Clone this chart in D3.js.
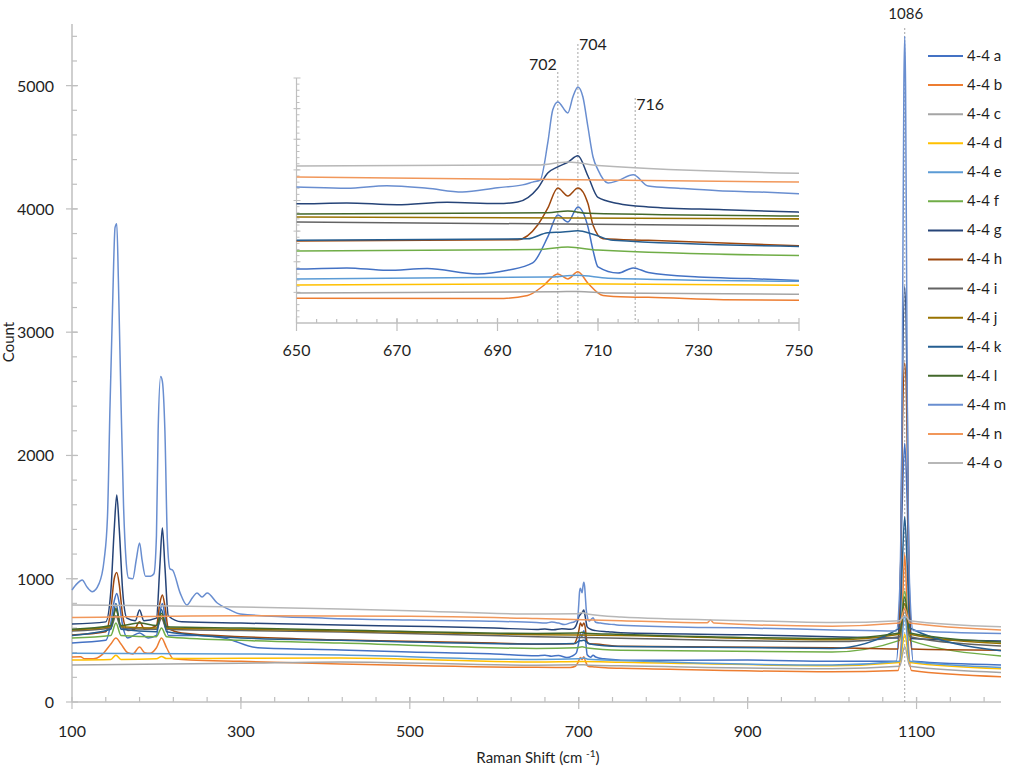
<!DOCTYPE html>
<html>
<head>
<meta charset="utf-8">
<script src="https://cdn.jsdelivr.net/npm/d3@7"></script>
<style>
  body { margin: 0; background: #fff; }
  text { font-family: Lato, "Open Sans", sans-serif; fill: #1f1f1f; }
</style>
</head>
<body>
<svg width="1024" height="778"></svg>
<script>
// ---- data (Raman shift cm-1, count) ----
const seriesNames = ["4-4 a", "4-4 b", "4-4 c", "4-4 d", "4-4 e", "4-4 f", "4-4 g", "4-4 h",
                     "4-4 i", "4-4 j", "4-4 k", "4-4 l", "4-4 m", "4-4 n", "4-4 o"];

const spec_a = [[100,479],[140,500],[146,640],[150,820],[153,880],[156,800],[160,620],[166,520],[180,560],[190,520],[200,540],[204,720],[207,800],[210,700],[214,540],[250,540],[280,520],[320,440],[418,422],[500,405],[600,390],[650,376],[660,380],[668,372],[676,378],[686,360],[692,372],[697,396],[700,481],[702,553],[704,530],[706,579],[708,514],[709,438],[710,383],[714,363],[717,380],[720,365],[730,350],[740,345],[750,339],[900,340],[1000,330],[1076,330],[1080,800],[1083,1600],[1086,2100],[1089,1600],[1092,800],[1096,330],[1200,300]];
const spec_b = [[100,365],[110,368],[115,350],[125,350],[135,380],[146,470],[152,519],[158,470],[166,400],[172,390],[180,446],[186,400],[192,395],[200,440],[206,519],[212,440],[220,350],[240,341],[300,330],[418,308],[650,281],[690,280],[696,290],[699,320],[702,360],[704,344],[706,367],[708,330],[711,290],[716,285],[720,284],[735,276],[750,274],[1000,245],[1078,255],[1082,500],[1086,1200],[1090,500],[1094,255],[1200,205]];
const spec_c = [[100,300],[300,315],[418,325],[650,298],[702,302],[706,303],[712,298],[750,294],[1000,270],[1080,290],[1086,450],[1092,290],[1200,240]];
const spec_d = [[100,341],[146,345],[152,380],[158,345],[200,350],[206,370],[212,352],[300,355],[418,357],[650,324],[704,328],[750,323],[1000,295],[1080,320],[1086,550],[1092,320],[1200,270]];
const spec_e = [[100,395],[300,390],[418,381],[650,344],[700,350],[706,356],[712,346],[750,336],[1000,300],[1080,330],[1086,700],[1092,330],[1200,280]];
const spec_f = [[100,519],[146,540],[152,640],[158,540],[200,530],[206,600],[212,530],[300,500],[418,479],[650,435],[698,440],[704,448],[710,438],[750,420],[1000,405],[1080,500],[1086,900],[1092,500],[1200,373]];
const spec_g = [[100,633],[140,650],[146,900],[150,1400],[153,1680],[156,1400],[160,900],[165,680],[175,660],[180,747],[185,660],[200,680],[204,1100],[207,1412],[210,1100],[214,700],[230,650],[300,640],[418,625],[500,615],[600,600],[650,589],[660,592],[670,586],[680,594],[690,590],[694,595],[698,640],[700,690],[702,710],[704,725],[706,746],[708,680],[710,610],[714,590],[720,579],[735,570],[750,562],[900,545],[1000,530],[1078,520],[1081,900],[1083,2400],[1086,3370],[1089,2400],[1091,900],[1094,515],[1200,495]];
const spec_h = [[100,544],[140,570],[146,750],[150,1000],[153,1050],[156,950],[160,700],[166,580],[174,590],[180,650],[186,590],[200,620],[204,800],[207,868],[210,780],[214,600],[230,560],[300,530],[418,503],[600,478],[650,468],[694,472],[698,520],[700,575],[702,641],[704,615],[706,641],[708,590],[709,520],[711,475],[720,470],[750,452],[1000,440],[1078,430],[1081,1000],[1083,2100],[1086,2750],[1089,2100],[1091,1000],[1094,430],[1200,420]];
const spec_i = [[100,575],[146,600],[152,700],[158,600],[200,590],[206,680],[212,590],[300,580],[418,568],[650,530],[750,517],[1000,490],[1080,530],[1086,760],[1092,530],[1200,455]];
const spec_j = [[100,584],[146,610],[152,760],[158,610],[200,600],[206,700],[212,600],[300,590],[418,575],[650,546],[750,540],[1000,505],[1080,550],[1086,800],[1092,550],[1200,475]];
const spec_k = [[100,540],[146,590],[152,800],[158,590],[200,570],[206,750],[212,570],[300,520],[418,500],[650,470],[696,475],[700,495],[703,497],[706,501],[709,490],[713,470],[750,450],[1000,435],[1080,600],[1083,1100],[1086,1500],[1089,1100],[1092,600],[1200,415]];
const spec_l = [[100,590],[146,620],[152,750],[158,620],[180,640],[200,620],[206,720],[212,610],[300,600],[418,584],[650,556],[700,560],[704,566],[708,558],[750,549],[1000,515],[1080,560],[1086,850],[1092,560],[1200,487]];
const spec_m = [[100,909],[106,960],[112,990],[118,930],[124,895],[132,960],[138,1150],[142,1500],[145,2400],[148,3200],[151,3850],[153,3880],[155,3400],[158,2450],[161,1600],[164,1150],[167,1006],[172,1000],[176,1150],[180,1290],[183,1150],[187,1020],[193,1020],[197,1040],[200,1350],[202,2200],[205,2640],[207,2600],[210,2200],[213,1300],[216,1080],[219,1071],[228,885],[236,787],[243,850],[248,885],[254,852],[260,885],[272,803],[287,747],[299,714],[400,680],[500,665],[600,655],[650,644],[660,640],[668,648],[676,640],[683,628],[690,642],[695,651],[697,660],[698.5,667],[700,788],[701,896],[702,922],[704,886],[705,938],[706,971],[707,938],[708,840],[709,743],[710,700],[712,657],[714,665],[717,684],[720,647],[726,640],[734,632],[742,628],[750,622],[850,605],[900,600],[1000,585],[1076,575],[1080,900],[1083,2500],[1085,5000],[1086,5400],[1087,5000],[1089,2500],[1092,900],[1096,580],[1200,555]];
const spec_n = [[100,685],[300,700],[500,695],[650,677],[750,660],[852,642],[856,665],[860,640],[1000,615],[1080,640],[1086,760],[1092,640],[1200,585]];
const spec_o = [[100,787],[200,780],[300,771],[418,755],[500,740],[650,713],[698,716],[704,726],[710,714],[750,689],[900,660],[1000,645],[1080,660],[1086,700],[1092,660],[1200,610]];

const seriesData = [spec_a, spec_b, spec_c, spec_d, spec_e, spec_f, spec_g, spec_h,
                    spec_i, spec_j, spec_k, spec_l, spec_m, spec_n, spec_o];
const seriesColors = ["#4472C4", "#ED7D31", "#A5A5A5", "#FFC000", "#5B9BD5", "#70AD47", "#264478", "#9E480E",
                      "#636363", "#997300", "#255E91", "#43682B", "#698ED0", "#F1975A", "#B7B7B7"];

const mainXTicks = [100, 300, 500, 700, 900, 1100];
const mainYTicks = [0, 1000, 2000, 3000, 4000, 5000];
const insetXTicks = [650, 670, 690, 710, 730, 750];
const insetPeakPos = [702, 706, 717.4];
const insetPeakText = ["702", "704", "716"];
const mainPeakPos = 1086;
const mainPeakText = "1086";

const svg = d3.select("svg");
svg.append("rect").attr("width", 1024).attr("height", 778).attr("fill", "#fff");

const axisColor = "#BFBFBF";

// ---- main chart ----
const x = d3.scaleLinear().domain([100, 1200]).range([72, 1001]);
const y = d3.scaleLinear().domain([0, 5500]).range([702, 24]);

// y axis
svg.append("line")
   .attr("x1", 72).attr("x2", 72).attr("y1", y(5500)).attr("y2", y(0))
   .attr("stroke", axisColor).attr("stroke-width", 1.5);
svg.selectAll(".yminor").data(d3.range(200, 5500, 200)).enter().append("line")
   .attr("x1", 72).attr("x2", 77)
   .attr("y1", d => y(d)).attr("y2", d => y(d))
   .attr("stroke", axisColor).attr("stroke-width", 1.2);
svg.selectAll(".ymajor").data(mainYTicks).enter().append("line")
   .attr("x1", 66).attr("x2", 78)
   .attr("y1", d => y(d)).attr("y2", d => y(d))
   .attr("stroke", axisColor).attr("stroke-width", 1.2);
svg.selectAll(".ylab").data(mainYTicks).enter().append("text")
   .attr("x", 54).attr("y", d => y(d) + 6)
   .attr("text-anchor", "end").attr("font-size", "16px")
   .text(d => d);

// x axis
svg.append("line")
   .attr("x1", x(100)).attr("x2", x(1200)).attr("y1", y(0)).attr("y2", y(0))
   .attr("stroke", axisColor).attr("stroke-width", 1.5);
svg.selectAll(".xminor").data(d3.range(140, 1200, 40)).enter().append("line")
   .attr("x1", d => x(d)).attr("x2", d => x(d)).attr("y1", y(0) - 5).attr("y2", y(0))
   .attr("stroke", axisColor).attr("stroke-width", 1.2);
svg.selectAll(".xmajor").data(mainXTicks).enter().append("line")
   .attr("x1", d => x(d)).attr("x2", d => x(d)).attr("y1", y(0) - 5).attr("y2", y(0) + 7)
   .attr("stroke", axisColor).attr("stroke-width", 1.2);
svg.selectAll(".xlab").data(mainXTicks).enter().append("text")
   .attr("x", d => x(d)).attr("y", 737)
   .attr("text-anchor", "middle").attr("font-size", "16px")
   .text(d => d);

// axis titles
const xt = svg.append("text")
   .attr("x", 538).attr("y", 763)
   .attr("text-anchor", "middle").attr("font-size", "15px");
xt.append("tspan").text("Raman Shift (cm ");
xt.append("tspan").attr("font-size", "10px").attr("dy", -6).text("-1");
xt.append("tspan").attr("dy", 6).text(")");

svg.append("text")
   .attr("transform", "translate(14,342) rotate(-90)")
   .attr("text-anchor", "middle").attr("font-size", "15px")
   .text("Count");

// 1086 marker
svg.append("line")
   .attr("x1", x(mainPeakPos)).attr("x2", x(mainPeakPos)).attr("y1", 28).attr("y2", y(0))
   .attr("stroke", "#A6A6A6").attr("stroke-width", 1).attr("stroke-dasharray", "2,2");
svg.append("text")
   .attr("x", x(mainPeakPos) + 1).attr("y", 19)
   .attr("text-anchor", "middle").attr("font-size", "15px")
   .text(mainPeakText);

const line = d3.line()
   .x(d => x(d[0])).y(d => y(d[1]))
   .curve(d3.curveMonotoneX);

svg.append("g").selectAll("path").data(seriesData).enter().append("path")
   .attr("d", line)
   .attr("fill", "none")
   .attr("stroke", (d, i) => seriesColors[i])
   .attr("stroke-width", 1.5);

// ---- inset (650-750) ----
const ix = d3.scaleLinear().domain([650, 750]).range([296.5, 799]);
const iy = d3.scaleLinear().domain([200, 1000]).range([323, 78]);

svg.append("defs").append("clipPath").attr("id", "inset-clip")
   .append("rect")
   .attr("x", ix(650)).attr("y", 40)
   .attr("width", ix(750) - ix(650)).attr("height", iy(200) - 40);

svg.append("line")
   .attr("x1", ix(650)).attr("x2", ix(650)).attr("y1", iy(1000)).attr("y2", iy(200))
   .attr("stroke", axisColor).attr("stroke-width", 1.2);
svg.selectAll(".iyminor").data(d3.range(220, 1000, 20)).enter().append("line")
   .attr("x1", ix(650)).attr("x2", ix(650) + 3)
   .attr("y1", d => iy(d)).attr("y2", d => iy(d))
   .attr("stroke", axisColor).attr("stroke-width", 1);
svg.selectAll(".iymajor").data(d3.range(300, 1001, 100)).enter().append("line")
   .attr("x1", ix(650) - 3).attr("x2", ix(650) + 4)
   .attr("y1", d => iy(d)).attr("y2", d => iy(d))
   .attr("stroke", axisColor).attr("stroke-width", 1);

svg.append("line")
   .attr("x1", ix(650)).attr("x2", ix(750)).attr("y1", iy(200)).attr("y2", iy(200))
   .attr("stroke", axisColor).attr("stroke-width", 1.5);
svg.selectAll(".ixminor").data(d3.range(654, 750, 4)).enter().append("line")
   .attr("x1", d => ix(d)).attr("x2", d => ix(d)).attr("y1", iy(200) - 4).attr("y2", iy(200))
   .attr("stroke", axisColor).attr("stroke-width", 1.2);
svg.selectAll(".ixmajor").data(insetXTicks).enter().append("line")
   .attr("x1", d => ix(d)).attr("x2", d => ix(d)).attr("y1", iy(200) - 5).attr("y2", iy(200) + 8)
   .attr("stroke", axisColor).attr("stroke-width", 1.2);
svg.selectAll(".ixlab").data(insetXTicks).enter().append("text")
   .attr("x", d => ix(d)).attr("y", 356)
   .attr("text-anchor", "middle").attr("font-size", "16px")
   .text(d => d);

// peak markers 702 / 704 / 716
const peakTop = [72, 44, 98];
const peakLabelX = [-1, 1, 1];
const peakLabelY = [70, 50, 110];
insetPeakPos.forEach((p, i) => {
  svg.append("line")
     .attr("x1", ix(p)).attr("x2", ix(p)).attr("y1", peakTop[i]).attr("y2", iy(200))
     .attr("stroke", "#A6A6A6").attr("stroke-width", 1).attr("stroke-dasharray", "2,2");
  svg.append("text")
     .attr("x", ix(p) + peakLabelX[i] * 1)
     .attr("y", peakLabelY[i])
     .attr("text-anchor", peakLabelX[i] < 0 ? "end" : "start")
     .attr("font-size", "16px")
     .text(insetPeakText[i]);
});

const iline = d3.line()
   .x(d => ix(d[0])).y(d => iy(d[1]))
   .curve(d3.curveMonotoneX);

svg.append("g").attr("clip-path", "url(#inset-clip)")
   .selectAll("path").data(seriesData).enter().append("path")
   .attr("d", d => iline(d.filter(p => p[0] >= 600 && p[0] <= 800)))
   .attr("fill", "none")
   .attr("stroke", (d, i) => seriesColors[i])
   .attr("stroke-width", 1.5);

// ---- legend ----
const legend = svg.append("g").selectAll("g").data(seriesNames).enter().append("g")
   .attr("transform", (d, i) => `translate(928,${56 + i * 29.07})`);
legend.append("line")
   .attr("x1", 0).attr("x2", 35).attr("y1", 0).attr("y2", 0)
   .attr("stroke", (d, i) => seriesColors[i]).attr("stroke-width", 2);
legend.append("text")
   .attr("x", 39).attr("y", 5)
   .attr("font-size", "15px")
   .text(d => d);
</script>
</body>
</html>
